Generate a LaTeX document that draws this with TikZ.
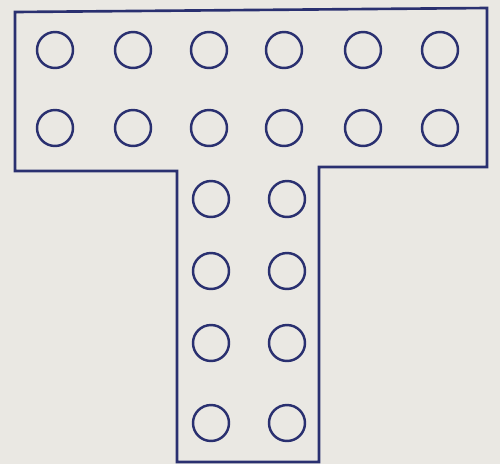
\documentclass[tikz,border=0pt]{standalone}
\usepackage{tikz}
\usetikzlibrary{positioning}

\definecolor{papir}{RGB}{234,232,227}
\definecolor{blaek}{RGB}{42,48,112}

\tikzset{
  hul/.style={circle,draw=blaek,line width=1.4pt,minimum size=0.72cm,inner sep=0pt},
  kant/.style={draw=blaek,line width=1.5pt,line join=miter}
}

\begin{document}
\begin{tikzpicture}[x=0.02cm,y=-0.02cm]
    % papiret bagved
    \fill[papir] (0,0) rectangle (500,464);
    \useasboundingbox (0,0) rectangle (500,464);
    % T-formens omrids
    \draw[kant] (15,12) -- (487,8) -- (487,167) -- (319,167) -- (319,462)
      -- (177,462) -- (177,171) -- (15,171) -- cycle;
    % to rækker huller i T'ets top
    \foreach \x [count=\i] in {55,133,209,284,363,440} {
      \node[hul] (a\i) at (\x,50) {};
      \node[hul] (b\i) at (\x,128) {};
    }
    % to søjler huller i stammen
    \foreach \y [count=\j] in {199,271,343,423} {
      \node[hul] (v\j) at (211,\y) {};
      \node[hul] (h\j) at (287,\y) {};
    }
\end{tikzpicture}
\end{document}
